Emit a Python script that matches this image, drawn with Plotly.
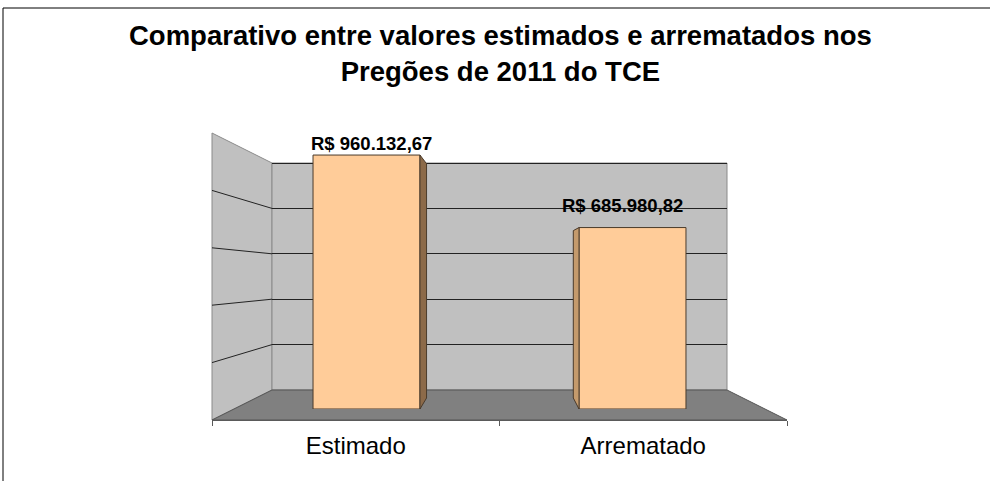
import plotly.graph_objects as go

# ---------------- data ----------------
categories = ["Estimado", "Arrematado"]
values = [960132.67, 685980.82]
value_labels = ["R$ 960.132,67", "R$ 685.980,82"]
grid_values = [200000, 400000, 600000, 800000, 1000000]
title_lines = ["Comparativo entre valores estimados e arrematados nos", "Pregões de 2011 do TCE"]

# ---------------- style / geometry (pixels) ----------------
W, H = 990, 481
FONT = "Liberation Sans, Arial, sans-serif"
VMAX = 1_000_000

WALL_L, WALL_R = 272, 727      # back wall
WALL_T, WALL_B = 163, 390      # back wall top (VMAX) / bottom (0)
FRONT_L, FRONT_R = 212, 787    # floor front edge
FRONT_T, FRONT_B = 133, 420    # left wall front edge top / bottom
BAR_X0, BAR_X1 = 233.5, 765.5  # bar plane x extent for range [-0.5, n-0.5]
BAR_ZERO, BAR_FULL = 409, 144.5
BAR_WIDTH = 0.402
PERSP_K = 1.084                # front/back scale ratio of bar depth
VP = (505, 267)                # vanishing point (px)
label_shift = [(4.5, 12), (-10, 22)]

WALL = "#c0c0c0"
FLOOR = "#808080"
EDGE = "#8a8a8a"
GRID = "#222222"
BAR = "#ffcc99"
BAR_EDGE = "#4a3b2c"
SIDE_RIGHT = "#8c6a49"
SIDE_LEFT = "#c49a6c"


def px(x):
    return x / W


def py(y):
    return 1 - y / H


n = len(categories)
xpos = list(range(n))

fig = go.Figure()

# subplot 1: back wall gridlines
fig.add_trace(go.Scatter(x=[0.5], y=[0], xaxis="x", yaxis="y", mode="markers",
                         marker=dict(opacity=0), hoverinfo="skip", showlegend=False))

# subplot 2: bars
fig.add_trace(go.Bar(x=xpos, y=values, xaxis="x2", yaxis="y2", width=BAR_WIDTH,
                     marker=dict(color=BAR, line=dict(color=BAR_EDGE, width=1)),
                     hovertext=categories, hoverinfo="text+y", showlegend=False))

# side faces of the bars (perspective from bar values)
x_per_px = (n) / (BAR_X1 - BAR_X0)
xc = -0.5 + (VP[0] - BAR_X0) * x_per_px
y_per_px = VMAX / (BAR_ZERO - BAR_FULL)
yc = (BAR_ZERO - VP[1]) * y_per_px


def back(x, y):
    return xc + (x - xc) / PERSP_K, yc + (y - yc) / PERSP_K


for i, v in zip(xpos, values):
    if i < xc:
        xf = i + BAR_WIDTH / 2
        color = SIDE_RIGHT
    else:
        xf = i - BAR_WIDTH / 2
        color = SIDE_LEFT
    bt = back(xf, v)
    bb = back(xf, 0)
    fig.add_trace(go.Scatter(x=[xf, bt[0], bb[0], xf, xf], y=[v, bt[1], bb[1], 0, v],
                             xaxis="x2", yaxis="y2", mode="lines", fill="toself",
                             fillcolor=color, line=dict(color=BAR_EDGE, width=1),
                             hoverinfo="skip", showlegend=False))

# subplot 3: front category axis
fig.add_trace(go.Scatter(x=categories, y=[0] * n, xaxis="x3", yaxis="y3", mode="markers",
                         marker=dict(opacity=0), hoverinfo="skip", showlegend=False))

shapes = []
# outer frame
shapes.append(dict(type="rect", xref="paper", yref="paper", x0=px(3), x1=px(W + 5),
                   y0=py(H + 5), y1=py(8), line=dict(color="#000000", width=1),
                   fillcolor="rgba(0,0,0,0)", layer="below"))
# left wall
shapes.append(dict(type="path", xref="paper", yref="paper",
                   path=f"M {px(FRONT_L)} {py(FRONT_T)} L {px(WALL_L)} {py(WALL_T)} "
                        f"L {px(WALL_L)} {py(WALL_B)} L {px(FRONT_L)} {py(FRONT_B)} Z",
                   fillcolor=WALL, line=dict(color=EDGE, width=1), layer="below"))
# back wall
shapes.append(dict(type="rect", xref="paper", yref="paper", x0=px(WALL_L), x1=px(WALL_R),
                   y0=py(WALL_B), y1=py(WALL_T), fillcolor=WALL,
                   line=dict(color=EDGE, width=1), layer="below"))
# floor
shapes.append(dict(type="path", xref="paper", yref="paper",
                   path=f"M {px(WALL_L)} {py(WALL_B)} L {px(WALL_R)} {py(WALL_B)} "
                        f"L {px(FRONT_R)} {py(FRONT_B)} L {px(FRONT_L)} {py(FRONT_B)} Z",
                   fillcolor=FLOOR, line=dict(color="#555555", width=1), layer="below"))
# left wall gridlines (follow the value ticks)
for g in grid_values[:-1]:
    yf = FRONT_B - (FRONT_B - FRONT_T) * g / VMAX
    yb = WALL_B - (WALL_B - WALL_T) * g / VMAX
    shapes.append(dict(type="line", xref="paper", yref="paper", x0=px(FRONT_L), y0=py(yf),
                       x1=px(WALL_L), y1=py(yb), line=dict(color=GRID, width=1), layer="below"))

annotations = [dict(text="<b>" + "<br>".join(title_lines) + "</b>", xref="paper", yref="paper",
                    x=px(500.5), y=py(53.5), xanchor="center", yanchor="middle", showarrow=False,
                    font=dict(family=FONT, size=27.5, color="#000000"))]
for i, (v, lab) in enumerate(zip(values, value_labels)):
    annotations.append(dict(text=f"<b>{lab}</b>", xref="x2", yref="y2", x=xpos[i], y=v,
                            xanchor="center", yanchor="middle", showarrow=False,
                            xshift=label_shift[i][0], yshift=label_shift[i][1],
                            font=dict(family=FONT, size=18.5, color="#000000")))

ytop_ext = 1.01
fig.update_layout(
    width=W, height=H,
    margin=dict(l=0, r=0, t=0, b=0, pad=0),
    paper_bgcolor="white", plot_bgcolor="rgba(0,0,0,0)",
    showlegend=False, hovermode="closest",
    font=dict(family=FONT, color="#000000"),
    xaxis=dict(domain=[px(WALL_L), px(WALL_R)], range=[0, 1], visible=False, fixedrange=True),
    yaxis=dict(domain=[py(WALL_B), py(WALL_B - (WALL_B - WALL_T) * ytop_ext)],
               range=[0, VMAX * ytop_ext], tickvals=grid_values, showticklabels=False,
               showgrid=True, gridcolor=GRID, gridwidth=1, zeroline=False, showline=False,
               ticks="", fixedrange=True),
    xaxis2=dict(domain=[px(BAR_X0), px(BAR_X1)], range=[-0.5, n - 0.5], anchor="y2",
                visible=False, fixedrange=True),
    yaxis2=dict(domain=[py(BAR_ZERO), py(BAR_FULL)], range=[0, VMAX], anchor="x2",
                visible=False, fixedrange=True),
    xaxis3=dict(domain=[px(FRONT_L), px(FRONT_R)], anchor="y3", type="category",
                range=[-0.5, n - 0.5], showline=True, linecolor="#5a5a5a", linewidth=1,
                ticks="outside", ticklen=5, tickcolor="#5a5a5a", tickson="boundaries",
                ticklabelstandoff=4, showgrid=False, zeroline=False,
                tickfont=dict(family=FONT, size=24, color="#000000"), fixedrange=True),
    yaxis3=dict(domain=[py(FRONT_B), py(FRONT_B - 10)], anchor="x3", visible=False,
                range=[0, 1], fixedrange=True),
    shapes=shapes,
    annotations=annotations,
)

fig.write_html("out.html", config={"displayModeBar": False},
               post_script="document.body.style.margin='0';")
